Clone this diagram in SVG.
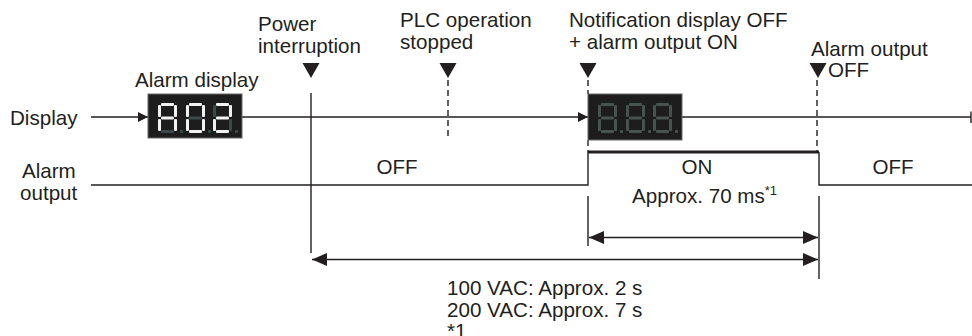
<svg xmlns="http://www.w3.org/2000/svg" xmlns:xlink="http://www.w3.org/1999/xlink" width="972" height="336" viewBox="0 0 972 336">
<style>
text{font-family:"Liberation Sans",Arial,Helvetica,sans-serif;font-size:20.6px;fill:#231f20}
.ln{stroke:#231f20;stroke-width:1.4;fill:none}
.thick{stroke:#231f20;stroke-width:3.2;fill:none}
.dash{stroke:#231f20;stroke-width:1.4;fill:none;stroke-dasharray:6 4}
.box{fill:#1d1d1d;stroke:#6a6a6a;stroke-width:1}
.on{fill:#f2f2f2}
.off1{fill:#3b4a48}
.off2{fill:#46534f}
.tri{fill:#231f20}
</style>
<defs>
<marker id="arrS" viewBox="0 0 10 10" refX="10" refY="5" markerWidth="10" markerHeight="10" markerUnits="userSpaceOnUse" orient="auto">
<path d="M0,0 L10,5 L0,10 z" fill="#231f20"/>
</marker>
<marker id="arrD" viewBox="0 0 15 13" refX="15" refY="6.5" markerWidth="15" markerHeight="13" markerUnits="userSpaceOnUse" orient="auto-start-reverse">
<path d="M0,0 L15,6.5 L0,13 z" fill="#231f20"/>
</marker>
<path id="tri" d="M-8.5,0 L8.5,0 L0,15 z"/>
<rect id="sa" x="3" y="0" width="13" height="3" rx="1"/>
<rect id="sb" x="16" y="2" width="3" height="12" rx="1"/>
<rect id="sc" x="16" y="16" width="3" height="12" rx="1"/>
<rect id="sd" x="3" y="27" width="13" height="3" rx="1"/>
<rect id="se" x="0" y="16" width="3" height="12" rx="1"/>
<rect id="sf" x="0" y="2" width="3" height="12" rx="1"/>
<rect id="sg" x="3" y="13.5" width="13" height="3" rx="1"/>
<rect id="sp" x="22" y="27" width="3" height="3" rx="1"/>
<g id="dig8">
<use xlink:href="#sa"/><use xlink:href="#sb"/><use xlink:href="#sc"/><use xlink:href="#sd"/><use xlink:href="#se"/><use xlink:href="#sf"/><use xlink:href="#sg"/><use xlink:href="#sp"/>
</g>
</defs>

<g id="connectors">
<path class="ln" d="M91,117 H148" marker-end="url(#arrS)"/>
<path class="ln" d="M242,117 H588" marker-end="url(#arrS)"/>
<path class="ln" d="M682,117 H971"/>
<path class="ln" d="M971,111.5 V123"/>
<path class="ln" d="M91,185 H588 V152"/>
<path class="thick" d="M588,152 H819"/>
<path class="ln" d="M819,152 V185 H972"/>
<path class="ln" d="M311,93 V253"/>
<path class="dash" d="M448,80 V140"/>
<path class="dash" d="M588,80 V94"/>
<path class="dash" d="M588,140 V152"/>
<path class="dash" d="M817,80 V152"/>
<path class="ln" d="M588,196 V246"/>
<path class="ln" d="M819,196 V279"/>
<path class="ln" d="M589,237.5 H818" marker-start="url(#arrD)" marker-end="url(#arrD)"/>
<path class="ln" d="M312,259.5 H818" marker-start="url(#arrD)" marker-end="url(#arrD)"/>
</g>

<g id="label-display"><text x="10" y="125">Display</text></g>
<g id="label-alarm-output"><text x="22" y="178">Alarm</text><text x="20" y="200">output</text></g>

<g id="alarm-display">
<text x="135" y="87">Alarm display</text>
<rect class="box" x="148" y="94" width="94" height="44"/>
<g transform="translate(158,103)">
<use class="on" xlink:href="#sa"/><use class="on" xlink:href="#sb"/><use class="on" xlink:href="#sc"/><use class="off1" xlink:href="#sd"/><use class="on" xlink:href="#se"/><use class="on" xlink:href="#sf"/><use class="on" xlink:href="#sg"/><use class="off1" xlink:href="#sp"/>
</g>
<g transform="translate(186,103)">
<use class="on" xlink:href="#sa"/><use class="on" xlink:href="#sb"/><use class="on" xlink:href="#sc"/><use class="on" xlink:href="#sd"/><use class="on" xlink:href="#se"/><use class="on" xlink:href="#sf"/><use class="off1" xlink:href="#sg"/><use class="off1" xlink:href="#sp"/>
</g>
<g transform="translate(213,103)">
<use class="on" xlink:href="#sa"/><use class="on" xlink:href="#sb"/><use class="off1" xlink:href="#sc"/><use class="on" xlink:href="#sd"/><use class="on" xlink:href="#se"/><use class="off1" xlink:href="#sf"/><use class="on" xlink:href="#sg"/><use class="off1" xlink:href="#sp"/>
</g>
</g>

<g id="power-interruption">
<use class="tri" xlink:href="#tri" x="311" y="63"/>
<text x="258" y="31">Power</text>
<text x="258" y="53">interruption</text>
</g>

<g id="plc-stopped">
<use class="tri" xlink:href="#tri" x="448" y="63"/>
<text x="400" y="27">PLC operation</text>
<text x="400" y="49">stopped</text>
</g>

<g id="notification-off">
<use class="tri" xlink:href="#tri" x="588" y="63"/>
<text x="569" y="27">Notification display OFF</text>
<text x="569" y="49">+ alarm output ON</text>
</g>

<g id="blank-display">
<rect class="box" x="588" y="94" width="94" height="46"/>
<use class="off2" xlink:href="#dig8" x="598" y="103"/>
<use class="off2" xlink:href="#dig8" x="626" y="103"/>
<use class="off2" xlink:href="#dig8" x="653" y="103"/>
</g>

<g id="alarm-output-off">
<use class="tri" xlink:href="#tri" x="818" y="63"/>
<text x="811" y="56">Alarm output</text>
<text x="828" y="77">OFF</text>
</g>

<g id="state-labels">
<text x="397" y="174" text-anchor="middle">OFF</text>
<text x="697" y="174" text-anchor="middle">ON</text>
<text x="893" y="174" text-anchor="middle">OFF</text>
</g>

<g id="label-70ms"><text x="632" y="203">Approx. 70 ms<tspan font-size="13" dy="-8">*1</tspan></text></g>

<g id="label-shutdown">
<text x="447" y="295">100 VAC: Approx. 2 s</text>
<text x="447" y="317">200 VAC: Approx. 7 s</text>
<text x="447" y="338">*1</text>
</g>
</svg>
